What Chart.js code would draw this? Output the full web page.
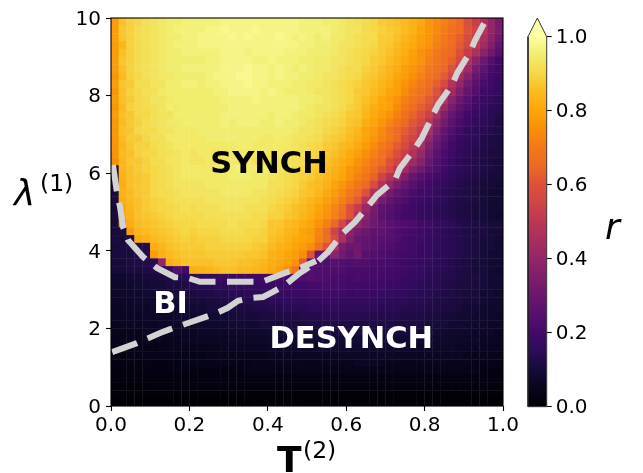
<!DOCTYPE html>
<html>
<head>
<meta charset="utf-8">
<title>r map</title>
<script src="https://cdn.jsdelivr.net/npm/chart.js@4"></script>
<style>
  body { margin: 0; background: #fff; }
  canvas { position: absolute; top: 0; }
</style>
</head>
<body>
<canvas id="mapa" width="643" height="473" style="left:0"></canvas>
<canvas id="barra" width="143" height="473" style="left:500px"></canvas>
<script>
const xTicks = [0, 0.2, 0.4, 0.6, 0.8, 1];
const yTicks = [0, 2, 4, 6, 8, 10];
const barTicks = [0, 0.2, 0.4, 0.6, 0.8, 1];

// r x 100, first row is the top of the map (lambda near 10), 50 columns for T from 0 to 1
const rMap = [
  [78,86,89,90,92,93,94,95,95,96, 96,96,96,96,97,97,97,97,97,97, 97,97,97,97,96,96,96,95,95,94, 93,92,91,90,88,87,86,85,83,81, 77,74,72,69,65,59,53,47,40,33],
  [78,87,89,91,92,93,94,95,96,96, 96,96,97,97,98,97,97,97,98,97, 97,97,97,97,96,96,96,96,95,94, 93,93,91,90,89,88,87,85,83,80, 77,74,71,68,65,60,55,48,40,34],
  [79,87,89,91,92,93,94,95,95,96, 96,97,97,97,97,98,97,98,97,97, 97,98,97,96,97,96,95,96,94,94, 93,92,91,91,88,88,86,84,82,79, 77,73,70,67,63,58,53,46,38,31],
  [78,84,89,91,92,93,94,95,96,96, 96,97,97,97,97,97,97,97,97,97, 97,97,97,97,96,96,95,95,94,93, 93,92,91,90,88,87,85,83,81,78, 76,72,69,66,62,56,50,43,35,28],
  [78,86,89,91,92,93,94,95,95,96, 96,96,96,96,97,97,97,96,97,97, 97,97,96,96,96,95,95,95,94,93, 92,91,90,89,88,86,84,82,79,76, 73,70,67,65,60,52,46,38,31,25],
  [78,87,89,91,92,93,94,95,95,95, 95,95,96,96,97,97,97,97,96,96, 97,96,96,96,95,95,94,94,93,93, 92,91,90,88,87,85,83,81,78,76, 72,69,66,63,57,47,38,30,24,20],
  [78,86,89,91,92,93,94,95,95,96, 96,96,96,96,97,97,97,98,97,97, 96,97,96,95,96,95,94,94,93,92, 91,91,89,88,86,84,82,79,77,74, 70,68,65,60,52,43,33,27,22,19],
  [77,85,89,90,92,93,94,94,95,95, 95,95,96,97,97,97,98,98,97,97, 96,97,96,96,95,95,94,93,93,92, 91,90,88,87,85,83,80,78,75,72, 69,66,62,55,45,37,29,24,20,18],
  [78,87,88,91,91,93,93,95,95,96, 96,95,96,96,97,97,97,98,97,97, 96,96,96,95,95,94,94,93,92,91, 90,89,87,86,84,82,79,76,73,70, 67,63,57,48,40,32,26,22,19,17],
  [77,86,89,90,92,92,94,95,95,95, 95,95,95,96,96,97,97,97,97,96, 97,96,95,95,95,94,93,93,92,91, 90,88,87,85,83,80,79,74,71,68, 65,60,52,43,35,28,24,20,18,16],
  [78,86,88,90,91,93,93,94,95,95, 95,95,95,95,96,96,96,96,97,96, 96,96,96,96,95,95,94,93,92,91, 90,88,86,84,81,79,76,72,69,66, 62,57,47,38,30,25,21,18,16,15],
  [77,85,89,90,91,92,93,95,94,95, 95,95,95,95,95,96,96,96,96,96, 96,96,96,96,95,94,93,93,92,91, 89,88,85,82,80,79,74,70,66,63, 59,52,42,33,27,23,19,17,15,14],
  [78,86,87,90,90,92,93,93,95,95, 95,95,95,95,96,96,96,96,96,96, 95,96,96,95,94,94,93,92,91,90, 88,87,84,81,79,76,72,68,64,60, 54,46,36,29,24,20,18,16,14,13],
  [77,85,88,89,91,92,93,94,94,95, 95,95,95,95,96,95,96,96,96,95, 95,96,95,95,94,93,92,91,90,89, 87,86,82,80,77,73,69,65,61,57, 50,40,32,26,22,19,16,15,14,12],
  [77,86,87,90,91,91,93,93,94,94, 94,95,95,95,95,95,95,95,95,95, 95,95,95,94,93,93,92,90,89,88, 86,84,80,78,74,70,66,62,58,52, 45,36,28,24,20,17,15,14,13,12],
  [77,85,88,88,90,92,92,94,94,94, 94,94,95,95,95,95,95,95,95,94, 94,95,94,93,93,92,91,89,88,87, 85,83,80,77,73,70,66,60,55,50, 41,32,26,22,18,16,15,13,12,11],
  [77,84,87,89,89,91,92,93,94,94, 94,94,94,94,94,94,95,95,94,94, 94,94,94,93,92,91,90,88,87,85, 84,81,78,74,70,67,62,57,51,45, 36,29,24,20,17,15,14,13,12,11],
  [76,85,86,89,90,90,92,92,93,94, 93,94,94,93,94,94,94,94,94,94, 93,94,93,92,92,90,89,87,86,84, 81,79,75,72,68,64,59,53,47,41, 32,26,22,19,16,15,13,12,11,11],
  [75,84,87,87,89,91,91,93,93,94, 93,93,94,93,93,94,94,94,93,93, 93,93,93,92,91,89,88,86,84,82, 80,76,73,69,66,60,55,49,43,37, 29,24,21,18,15,14,13,12,11,10],
  [11,84,86,88,89,90,91,92,93,94, 94,94,94,95,95,95,96,95,95,95, 93,93,92,91,90,88,87,85,83,81, 77,74,71,67,62,57,50,43,36,31, 26,23,20,17,15,14,13,12,11,10],
  [10,83,86,87,88,90,91,92,93,94, 94,94,94,94,94,95,95,95,94,94, 93,92,91,90,89,88,86,84,82,80, 76,72,69,64,55,48,41,35,29,25, 22,20,18,16,14,13,12,11,10,10],
  [11,82,86,87,88,90,91,92,93,93, 93,93,94,94,94,94,94,94,94,94, 92,92,91,90,88,86,85,83,80,77, 73,69,65,58,48,41,34,29,25,22, 20,18,16,15,13,12,11,10,10,9],
  [10,83,85,87,88,90,91,91,92,93, 93,93,93,93,94,94,94,94,93,93, 92,91,90,89,87,86,84,81,78,74, 70,66,60,47,40,33,28,25,22,20, 19,17,15,14,13,12,11,10,9,9],
  [11,82,85,86,88,89,90,91,92,92, 92,92,93,93,93,93,93,93,93,92, 91,90,89,88,86,84,82,79,76,72, 67,62,50,41,33,28,25,23,20,19, 17,16,15,13,12,12,11,10,9,9],
  [10,81,84,86,88,89,90,90,91,92, 91,92,92,92,93,93,93,92,92,92, 90,89,88,86,85,83,80,77,73,68, 60,52,42,33,27,25,23,21,19,18, 16,15,14,13,12,11,10,10,9,9],
  [11,81,83,86,87,88,89,90,91,91, 91,91,92,92,92,92,92,92,91,91, 89,89,87,86,84,82,79,76,72,66, 60,48,38,32,26,24,22,20,19,17, 16,15,14,13,12,11,10,10,9,8],
  [10,73,82,85,86,87,88,89,90,90, 90,91,91,91,91,92,91,91,91,90, 87,87,85,84,82,80,76,72,65,56, 46,40,35,31,28,26,24,23,22,20, 19,17,16,15,13,12,12,11,10,10],
  [10,11,78,84,85,86,87,88,89,90, 89,90,90,90,91,91,91,90,90,89, 87,86,84,83,80,78,73,66,55,45, 38,33,30,27,27,25,23,22,21,19, 18,17,15,14,13,12,11,11,10,10],
  [11,10,11,81,83,85,86,87,88,89, 88,89,89,89,90,90,90,90,89,89, 86,85,83,81,80,79,72,67,58,46, 36,30,28,26,25,24,23,21,20,19, 17,16,15,14,13,12,11,10,10,9],
  [10,11,11,12,13,82,84,86,87,88, 88,88,89,89,89,89,89,89,88,87, 85,83,82,80,78,75,68,60,48,34, 30,31,28,26,24,23,22,21,20,18, 17,16,15,14,13,12,11,10,10,9],
  [10,11,11,12,13,78,83,85,86,87, 87,87,88,88,88,88,88,87,87,86, 83,82,80,78,75,60,28,25,38,32, 28,32,25,24,23,22,21,20,19,18, 17,15,15,14,13,12,11,10,9,9],
  [10,10,11,12,13,14,40,82,84,86, 86,86,86,87,87,87,86,86,85,84, 82,81,79,76,62,28,24,23,25,24, 23,24,23,22,22,21,20,19,18,17, 16,15,14,13,12,11,10,10,9,9],
  [10,10,11,11,12,13,15,18,24,20, 82,83,84,85,86,86,85,85,84,83, 81,79,75,68,30,24,23,23,23,23, 22,22,22,21,21,20,20,19,18,17, 15,15,14,13,12,11,10,10,9,8],
  [8,8,9,9,10,10,11,12,13,14, 15,16,17,18,18,18,19,20,19,20, 20,21,21,22,23,24,23,23,22,22, 21,22,21,21,20,20,19,18,17,16, 15,14,13,13,12,11,11,10,9,9],
  [8,8,8,9,9,10,10,11,11,12, 13,13,14,15,15,16,16,17,17,18, 18,19,19,20,20,21,21,22,21,21, 20,20,20,19,19,18,18,17,16,15, 14,14,13,12,11,11,10,10,9,9],
  [7,8,8,8,9,9,9,10,10,11, 11,12,12,13,13,14,14,15,15,16, 16,17,17,18,18,19,19,19,19,19, 18,19,18,18,17,17,16,16,15,14, 14,13,12,12,11,10,10,9,9,8],
  [7,7,7,8,8,8,9,9,9,10, 10,10,11,11,12,12,13,13,14,14, 15,15,16,16,16,17,17,18,17,17, 17,17,17,16,16,15,15,15,14,14, 13,12,12,11,11,10,10,9,8,8],
  [6,7,7,7,7,8,8,8,8,9, 9,9,10,10,10,11,11,11,12,12, 13,13,14,14,14,15,15,15,16,15, 15,15,15,15,14,14,14,13,13,13, 12,12,11,11,10,9,9,8,8,8],
  [6,6,6,6,7,7,7,7,8,8, 8,8,9,9,9,10,10,10,10,11, 11,12,12,12,13,13,13,14,14,14, 14,14,13,13,13,13,13,12,12,12, 11,11,10,10,9,9,8,8,8,7],
  [5,6,6,6,6,6,7,7,7,7, 7,8,8,8,8,9,9,9,9,10, 10,10,11,11,11,12,12,12,12,12, 12,12,12,12,12,12,11,11,11,11, 10,10,10,9,9,8,8,8,7,7],
  [5,5,5,5,6,6,6,6,6,6, 6,7,7,7,7,8,8,8,8,8, 9,9,9,10,10,10,10,10,11,11, 11,11,11,11,10,10,10,10,10,10, 9,9,9,8,8,8,7,7,7,6],
  [4,5,5,5,5,5,5,5,5,6, 6,6,6,6,6,7,7,7,7,7, 8,8,8,8,8,9,9,9,9,9, 9,9,9,9,9,9,9,9,9,9, 8,8,8,8,7,7,7,6,6,6],
  [4,4,4,4,4,4,5,5,5,5, 5,5,5,5,6,6,6,6,6,6, 7,7,7,7,7,7,8,8,8,8, 8,8,8,8,8,8,8,8,7,7, 7,7,7,7,6,6,6,6,5,5],
  [3,3,4,4,4,4,4,4,4,4, 4,4,5,5,5,5,5,5,5,5, 6,6,6,6,6,6,6,6,6,7, 7,7,7,7,7,7,6,6,6,6, 6,6,6,6,6,5,5,5,5,5],
  [3,3,3,3,3,3,3,3,3,4, 4,4,4,4,4,4,4,4,5,5, 5,5,5,5,5,5,5,5,5,5, 5,6,6,6,5,5,5,5,5,5, 5,5,5,5,5,5,4,4,4,4],
  [2,2,2,2,3,3,3,3,3,3, 3,3,3,3,3,3,3,4,4,4, 4,4,4,4,4,4,4,4,4,4, 4,4,4,4,4,4,4,4,4,4, 4,4,4,4,4,4,4,3,3,3],
  [2,2,2,2,2,2,2,2,2,2, 2,3,3,3,3,3,3,3,3,3, 3,3,3,3,3,3,3,3,3,3, 3,3,3,3,3,3,3,3,3,3, 3,3,3,3,3,3,3,3,3,3],
  [1,1,1,1,1,2,2,2,2,2, 2,2,2,2,2,2,2,2,2,2, 2,2,2,2,2,2,2,2,2,2, 2,2,2,2,2,2,2,2,2,2, 2,2,2,2,2,2,2,2,2,2],
  [1,1,1,1,1,1,1,1,1,1, 1,1,1,1,1,1,1,1,1,1, 1,1,1,1,1,1,1,1,1,1, 1,1,1,1,1,1,1,1,1,1, 1,1,1,1,1,1,1,1,1,1],
  [0,0,0,0,0,0,0,0,0,0, 0,0,0,0,0,0,0,0,1,1, 1,1,1,1,1,1,1,1,1,1, 1,1,1,1,1,1,1,1,1,1, 1,1,1,1,1,0,0,0,0,0]
];

// dashed boundaries
const curvaAltaT = [0.005, 0.015, 0.023, 0.031, 0.043, 0.082, 0.117, 0.163, 0.196, 0.227, 0.355, 0.385, 0.444, 0.482, 0.523];
const curvaAltaL = [6.21, 5.52, 5.13, 4.61, 4.28, 3.84, 3.56, 3.32, 3.3, 3.2, 3.2, 3.2, 3.43, 3.56, 3.74];
const curvaBajaT = [0.003, 0.066, 0.125, 0.151, 0.24, 0.27, 0.298, 0.324, 0.355, 0.388, 0.413, 0.444, 0.482, 0.526, 0.554, 0.592, 0.622, 0.648, 0.679, 0.724, 0.737, 0.776, 0.793, 0.819, 0.834, 0.87, 0.883, 0.916, 0.929, 0.959];
const curvaBajaL = [1.39, 1.62, 1.88, 1.98, 2.29, 2.4, 2.53, 2.71, 2.78, 2.81, 2.94, 3.12, 3.43, 3.71, 3.97, 4.46, 4.74, 5.05, 5.44, 5.82, 6.13, 6.65, 6.91, 7.45, 7.76, 8.27, 8.58, 9.12, 9.43, 10];

const notas = [
  { texto: "SYNCH", t: 0.403, l: 6.22, color: "#000" },
  { texto: "BI", t: 0.152, l: 2.61, color: "#fff" },
  { texto: "DESYNCH", t: 0.613, l: 1.71, color: "#fff" }
];

const inferno = ["#000004", "#08051d", "#160b39", "#2d0b59", "#420a68", "#57106e", "#6a176e", "#7f1e6c", "#932667", "#a82e5f", "#bc3754",
  "#cf4446", "#dd513a", "#ed6925", "#f37819", "#f98e09", "#fca50a", "#fbba1f", "#f6d746", "#f1ed6f", "#fcffa4"];

function hexRgb(h) {
  return [1, 3, 5].map(i => parseInt(h.substr(i, 2), 16));
}

function colorDe(v) {
  const p = Math.min(v, 0.9999) * (inferno.length - 1);
  const i = Math.floor(p);
  const a = hexRgb(inferno[i]), b = hexRgb(inferno[i + 1]);
  const c = a.map((n, k) => Math.round(n + (b[k] - n) * (p - i)));
  return `rgb(${c[0]},${c[1]},${c[2]})`;
}

const celdas = [];
const colores = [];
rMap.forEach((fila, i) => {
  fila.forEach((r, j) => {
    celdas.push({ x: (j + 0.5) / fila.length, y: 10 - (i + 0.5) * 10 / rMap.length });
    colores.push(colorDe(r / 100));
  });
});

const pares = (xs, ys) => xs.map((x, i) => ({ x: x, y: ys[i] }));
const fuente = "'DejaVu Sans'";

Chart.defaults.font.family = fuente;
Chart.defaults.color = "#000";

const textosMapa = {
  id: "textosMapa",
  afterDatasetsDraw(chart) {
    const ctx = chart.ctx, a = chart.chartArea;
    const sx = chart.scales.x, sy = chart.scales.y;
    ctx.save();
    ctx.strokeStyle = "#000";
    ctx.lineWidth = 1.1;
    ctx.strokeRect(a.left, a.top, a.right - a.left, a.bottom - a.top);

    ctx.textAlign = "center";
    ctx.textBaseline = "middle";
    ctx.font = `bold 30.5px ${fuente}`;
    notas.forEach(n => {
      ctx.fillStyle = n.color;
      ctx.fillText(n.texto, sx.getPixelForValue(n.t), sy.getPixelForValue(n.l));
    });

    ctx.fillStyle = "#000";
    ctx.textAlign = "left";
    ctx.textBaseline = "alphabetic";
    ctx.font = `bold 36px ${fuente}`;
    ctx.fillText("T", 277, 472);
    ctx.font = `23.5px ${fuente}`;
    ctx.fillText("(2)", 303, 458);
    ctx.font = `italic 36px ${fuente}`;
    ctx.fillText("λ", 14, 205);
    ctx.font = `23.5px ${fuente}`;
    ctx.fillText("(1)", 40, 191);
    ctx.restore();
  }
};

new Chart(document.getElementById("mapa"), {
  type: "scatter",
  data: {
    datasets: [
      {
        data: pares(curvaAltaT, curvaAltaL),
        showLine: true, order: 1, clip: 0, pointRadius: 0, tension: 0,
        borderColor: "#d3d3d3", borderWidth: 6, borderDash: [26.5, 11.5]
      },
      {
        data: pares(curvaBajaT, curvaBajaL),
        showLine: true, order: 2, clip: 0, pointRadius: 0, tension: 0,
        borderColor: "#d3d3d3", borderWidth: 6, borderDash: [26.5, 11.5]
      },
      {
        data: celdas,
        order: 3, clip: 0, pointStyle: "rect", pointRadius: 5.8, pointBorderWidth: 0,
        pointBackgroundColor: colores
      }
    ]
  },
  options: {
    responsive: false,
    animation: false,
    events: [],
    layout: { padding: { top: 18, right: 140 } },
    plugins: { legend: { display: false }, tooltip: { enabled: false } },
    scales: {
      x: {
        type: "linear", min: 0, max: 1,
        afterFit: s => { s.height = 67; },
        afterBuildTicks: s => { s.ticks = xTicks.map(v => ({ value: v })); },
        grid: { drawOnChartArea: false, tickLength: 5, tickWidth: 1.1, tickColor: "#000" },
        border: { display: false },
        ticks: { font: { size: 20 }, padding: 3, maxRotation: 0, callback: v => v.toFixed(1) }
      },
      y: {
        type: "linear", min: 0, max: 10,
        afterFit: s => { s.width = 111; },
        afterBuildTicks: s => { s.ticks = yTicks.map(v => ({ value: v })); },
        grid: { drawOnChartArea: false, tickLength: 5, tickWidth: 1.1, tickColor: "#000" },
        border: { display: false },
        ticks: { font: { size: 20 }, padding: 5, labelOffset: 1.5, callback: v => String(v) }
      }
    }
  },
  plugins: [textosMapa]
});

const textoBarra = {
  id: "textoBarra",
  afterDraw(chart) {
    const ctx = chart.ctx;
    ctx.save();
    ctx.fillStyle = "#000";
    ctx.font = `italic 36px ${fuente}`;
    ctx.textAlign = "left";
    ctx.textBaseline = "alphabetic";
    ctx.fillText("r", 105, 239);
    ctx.restore();
  }
};

function rellenoBarra(c) {
  const area = c.chart.chartArea;
  if (!area) return "#000";
  const sy = c.chart.scales.y;
  const g = c.chart.ctx.createLinearGradient(0, sy.getPixelForValue(0), 0, sy.getPixelForValue(1));
  inferno.forEach((col, i) => g.addColorStop(i / (inferno.length - 1), col));
  return g;
}

new Chart(document.getElementById("barra"), {
  type: "scatter",
  data: {
    datasets: [{
      data: [{ x: 0, y: 0 }, { x: 1, y: 0 }, { x: 1, y: 1 }, { x: 0.5, y: 1.0505 }, { x: 0, y: 1 }, { x: 0, y: 0 }],
      showLine: true, clip: 2, pointRadius: 0, tension: 0, fill: "shape",
      backgroundColor: rellenoBarra, borderColor: "#222", borderWidth: 0.9
    }]
  },
  options: {
    responsive: false,
    animation: false,
    events: [],
    layout: { padding: { top: 18, bottom: 66.3, left: 28 } },
    plugins: { legend: { display: false }, tooltip: { enabled: false } },
    scales: {
      x: { type: "linear", min: 0, max: 1, display: false },
      y: {
        type: "linear", position: "right", min: 0, max: 1.0505,
        afterFit: s => { s.width = 96.3; },
        afterBuildTicks: s => { s.ticks = barTicks.map(v => ({ value: v })); },
        grid: { drawOnChartArea: false, tickLength: 5, tickWidth: 1.1, tickColor: "#000" },
        border: { display: false },
        ticks: { font: { size: 20 }, padding: 4, labelOffset: 1.5, callback: v => v.toFixed(1) }
      }
    }
  },
  plugins: [textoBarra]
});
</script>
</body>
</html>
